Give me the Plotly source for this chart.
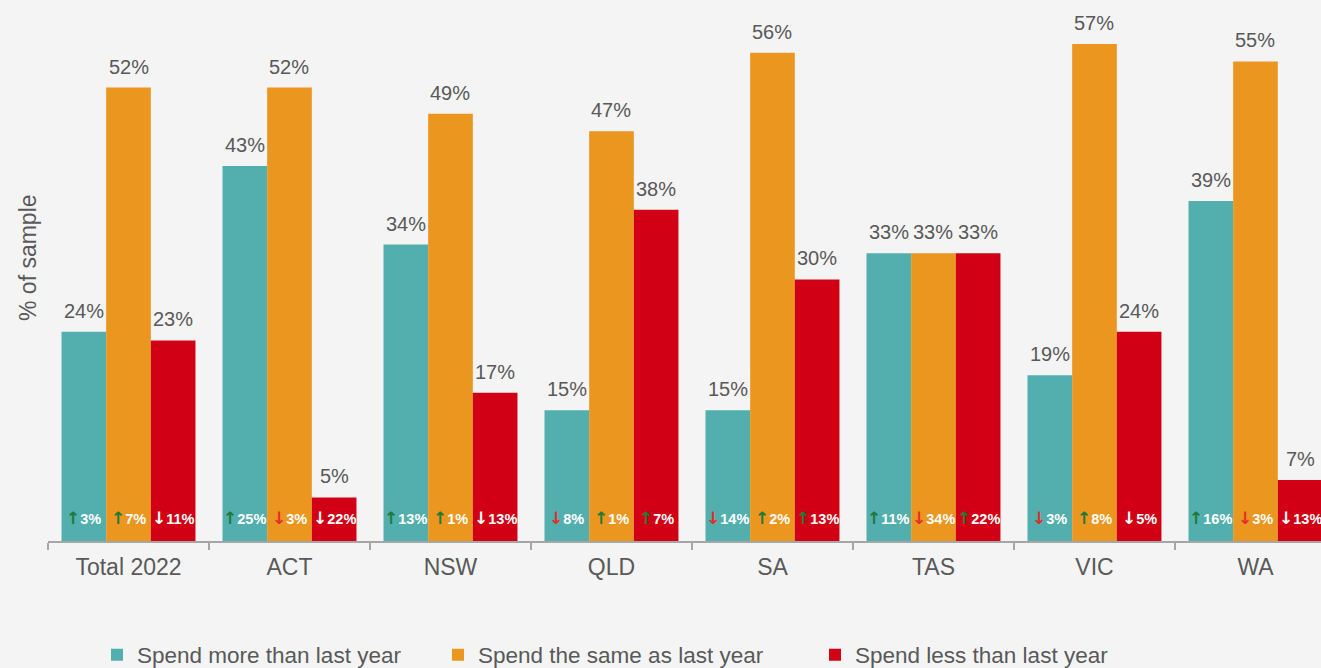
import plotly.graph_objects as go

# Spending intentions by state, share of sample (%)
categories = ["Total 2022", "ACT", "NSW", "QLD", "SA", "TAS", "VIC", "WA"]
series_names = ["Spend more than last year", "Spend the same as last year", "Spend less than last year"]
spend_more = [24, 43, 34, 15, 15, 33, 19, 39]
spend_same = [52, 52, 49, 47, 56, 33, 57, 55]
spend_less = [23, 5, 17, 38, 30, 33, 24, 7]

# Change versus previous year (percentage points)
change_more = [3, 25, 13, -8, -14, 11, -3, 16]
change_same = [7, -3, 1, 1, 2, -34, 8, -3]
change_less = [-11, -22, -13, 7, 13, 22, -5, -13]

colors = ["#52afad", "#eb961e", "#d20014"]
UP_COLOR = "#1f7a3a"
DOWN_COLOR = "#e03028"
TEXT_GRAY = "#595959"
FONT = "Liberation Sans, Arial, sans-serif"

values = [spend_more, spend_same, spend_less]
changes = [change_more, change_same, change_less]

BARGAP = 0.168
n_series = len(values)
bar_w = (1 - BARGAP) / n_series

fig = go.Figure()
for k in range(n_series):
    fig.add_trace(go.Bar(
        x=categories,
        y=values[k],
        name=series_names[k],
        marker=dict(color=colors[k], line=dict(width=0)),
        legend="legend" if k == 0 else f"legend{k + 1}",
        hoverinfo="skip",
    ))

annotations = []
for k in range(n_series):
    for i, cat in enumerate(categories):
        xpos = i + (k - (n_series - 1) / 2) * bar_w
        v = values[k][i]
        annotations.append(dict(
            x=xpos, y=v, xref="x", yref="y", text=f"{v}%", showarrow=False,
            yanchor="bottom", yshift=8,
            font=dict(size=20, color=TEXT_GRAY, family=FONT),
        ))
        c = changes[k][i]
        if c >= 0:
            arrow, acol = "↑", UP_COLOR
        else:
            arrow = "↓"
            acol = "#ffffff" if k == 2 else DOWN_COLOR
        annotations.append(dict(
            x=xpos, y=0, xref="x", yref="y",
            text=(f"<span style='color:{acol};font-family:DejaVu Sans;font-size:17px'><b>{arrow}</b></span>"
                  f"<b>{abs(c)}%</b>"),
            showarrow=False, yanchor="middle", yshift=23,
            font=dict(size=14.5, color="#ffffff", family=FONT),
        ))

PLOT_L, PLOT_W, PLOT_H = 48, 1273, 541

# Axis title placed as a rotated annotation
annotations.append(dict(
    text="% of sample", textangle=-90, showarrow=False,
    xref="paper", yref="paper", x=(28 - PLOT_L) / PLOT_W, y=(PLOT_H - 258) / PLOT_H,
    xanchor="center", yanchor="middle",
    font=dict(size=23, color=TEXT_GRAY, family=FONT),
))

legend_common = dict(
    orientation="h", xanchor="left", yanchor="middle", yref="container",
    font=dict(size=22.5, color=TEXT_GRAY, family=FONT),
    bgcolor="rgba(0,0,0,0)", itemwidth=30,
)
legend_y = (668 - 655) / 668

fig.update_layout(
    width=1321, height=668,
    margin=dict(l=PLOT_L, r=0, t=0, b=127),
    paper_bgcolor="#f4f4f4", plot_bgcolor="#f4f4f4",
    barmode="group", bargap=BARGAP, bargroupgap=0,
    font=dict(family=FONT, color=TEXT_GRAY),
    showlegend=True,
    legend=dict(x=(137 - 40 - PLOT_L) / PLOT_W, y=legend_y, **legend_common),
    legend2=dict(x=(478 - 40 - PLOT_L) / PLOT_W, y=legend_y, **legend_common),
    legend3=dict(x=(855 - 40 - PLOT_L) / PLOT_W, y=legend_y, **legend_common),
    xaxis=dict(
        type="category", categoryorder="array", categoryarray=categories,
        range=[-0.5, 7.407], showline=True, linecolor="#a6a6a6", linewidth=1.5,
        ticks="outside", tickson="boundaries", ticklen=7, tickcolor="#a6a6a6", tickwidth=1.5,
        ticklabelstandoff=5,
        tickfont=dict(size=23, color=TEXT_GRAY, family=FONT),
        showgrid=False, zeroline=False, fixedrange=True,
    ),
    yaxis=dict(
        range=[0, 62.04], showgrid=False, zeroline=False, showline=False,
        showticklabels=False, ticks="",
    ),
    annotations=annotations,
)

fig.write_html("out.html")
